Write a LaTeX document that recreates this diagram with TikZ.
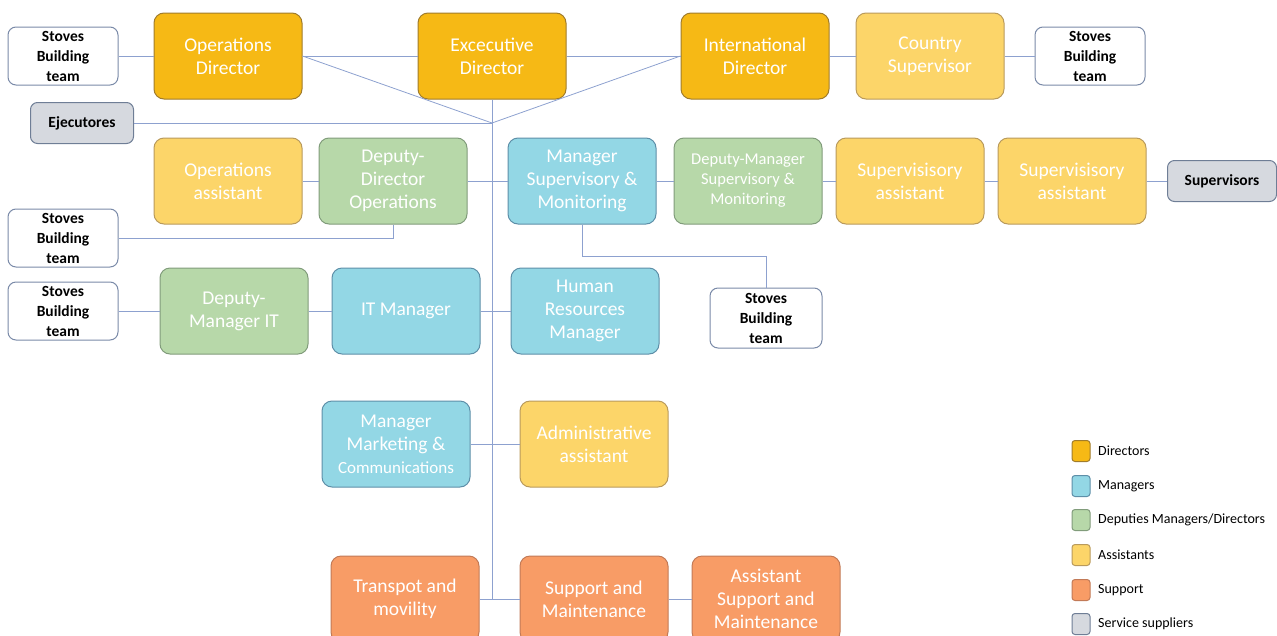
\documentclass[tikz,border=0pt]{standalone}
\usepackage{fontspec}
\setmainfont{Carlito}
\definecolor{dirF}{HTML}{F6B915}\definecolor{dirD}{HTML}{A07C2C}
\definecolor{manF}{HTML}{93D7E5}\definecolor{manD}{HTML}{5E8FA8}
\definecolor{depF}{HTML}{B7D8A9}\definecolor{depD}{HTML}{819C7B}
\definecolor{asF}{HTML}{FCD569}\definecolor{asD}{HTML}{B99A5C}
\definecolor{supF}{HTML}{F89C66}\definecolor{supD}{HTML}{C27A57}
\definecolor{svcF}{HTML}{D6D9DF}\definecolor{svcD}{HTML}{6F7E96}
\definecolor{teamD}{HTML}{7A8AA8}
\definecolor{wire}{HTML}{8DA1CF}
\tikzset{
  box/.style={draw, rounded corners=10pt, line width=1pt, align=center, inner sep=0pt,
    minimum width=148pt, minimum height=86pt, text=white, font=\fontsize{19.5}{23}\selectfont},
  dirbox/.style={box, fill=dirF, draw=dirD},
  manbox/.style={box, fill=manF, draw=manD},
  depbox/.style={box, fill=depF, draw=depD},
  asbox/.style={box, fill=asF, draw=asD},
  supbox/.style={box, fill=supF, draw=supD},
  team/.style={draw=teamD, rounded corners=8pt, line width=1pt, fill=white, align=center, inner sep=0pt,
    minimum width=110pt, minimum height=58pt, text=black, font=\bfseries\fontsize{15.5}{20}\selectfont},
  svc/.style={draw=svcD, rounded corners=7pt, line width=1pt, fill=svcF, align=center, inner sep=0pt,
    minimum height=41pt, text=black, font=\bfseries\fontsize{15.5}{18}\selectfont},
  wireln/.style={draw=wire, line width=0.8pt},
  legsq/.style={draw, rounded corners=3pt, line width=1pt, minimum width=18pt, minimum height=21pt, inner sep=0pt},
  legtx/.style={anchor=west, inner sep=0pt, font=\fontsize{14}{16}\selectfont, text=black}
}
\begin{document}
\begin{tikzpicture}[x=1pt,y=-1pt]
\useasboundingbox (0,0) rectangle (1277,635);
% row 1
\node[team] (st1) at (63,56) {Stoves\\Building\\team};
\node[dirbox] (opdir) at (228,56) {Operations\\Director};
\node[dirbox] (exdir) at (492,56) {Excecutive\\Director};
\node[dirbox] (intdir) at (755,56) {International\\Director};
\node[asbox] (ctry) at (930,56) {Country\\Supervisor};
\node[team] (st2) at (1090,56) {Stoves\\Building\\team};
\node[svc, minimum width=103pt] (ejec) at (82,123) {Ejecutores};
\coordinate (hub) at (492,123);
% row 2
\node[asbox] (opas) at (228,181) {Operations\\assistant};
\node[depbox] (ddo) at (393,181) {Deputy-\\Director\\Operations};
\node[manbox] (msm) at (582,181) {Manager\\Supervisory \&\\Monitoring};
\node[depbox, font=\fontsize{16.5}{20}\selectfont] (dmsm) at (748,181) {Deputy-Manager\\Supervisory \&\\Monitoring};
\node[asbox] (sa1) at (910,181) {Supervisisory\\assistant};
\node[asbox] (sa2) at (1072,181) {Supervisisory\\assistant};
\node[svc, minimum width=109pt] (supv) at (1222,181) {Supervisors};
\node[team] (st3) at (63,238) {Stoves\\Building\\team};
% row 3
\node[team] (st4) at (63,311) {Stoves\\Building\\team};
\node[depbox] (dmit) at (234,311) {Deputy-\\Manager IT};
\node[manbox] (itm) at (406,311) {IT Manager};
\node[manbox] (hrm) at (585,311) {Human\\Resources\\Manager};
\node[team, minimum width=112pt, minimum height=60pt] (st5) at (766,318) {Stoves\\Building\\team};
% row 4
\node[manbox] (mmc) at (396,444) {Manager\\Marketing \&\\{\fontsize{17}{20}\selectfont Communications}};
\node[asbox] (adm) at (594,444) {Administrative\\assistant};
% row 5
\node[supbox] (trans) at (405,599) {Transpot and\\movility};
\node[supbox] (supm) at (594,599) {Support and\\Maintenance};
\node[supbox] (asupm) at (766,599) {Assistant\\Support and\\Maintenance};
% connectors
\draw[wireln] (st1) -- (opdir);
\draw[wireln] (opdir) -- (exdir);
\draw[wireln] (exdir) -- (intdir);
\draw[wireln] (intdir) -- (ctry);
\draw[wireln] (ctry) -- (st2);
\draw[wireln] (opdir.east) -- (hub) -- (intdir.west);
\draw[wireln] (ejec.east) -- (hub);
\draw[wireln] (exdir.south) -- (exdir.south |- trans.east);
\draw[wireln] (opas) -- (ddo);
\draw[wireln] (ddo.east) -- (msm.west);
\draw[wireln] (msm) -- (dmsm);
\draw[wireln] (dmsm) -- (sa1);
\draw[wireln] (sa1) -- (sa2);
\draw[wireln] (sa2) -- (supv);
\draw[wireln] (ddo.south) |- (st3.east);
\draw[wireln] (msm.south) -- ++(0,32) -| (st5.north);
\draw[wireln] (st4) -- (dmit);
\draw[wireln] (dmit) -- (itm);
\draw[wireln] (itm.east) -- (hrm.west);
\draw[wireln] (mmc.east) -- (adm.west);
\draw[wireln] (trans.east) -- (supm.west);
\draw[wireln] (supm) -- (asupm);
% legend
\node[legsq, fill=dirF, draw=dirD] (l1) at (1081,451) {};
\node[legtx] (t1) at (1098,451) {Directors};
\node[legsq, fill=manF, draw=manD] (l2) at (1081,486) {};
\node[legtx] (t2) at (1098,486) {Managers};
\node[legsq, fill=depF, draw=depD] (l3) at (1081,520) {};
\node[legtx] (t3) at (1098,520) {Deputies Managers/Directors};
\node[legsq, fill=asF, draw=asD] (l4) at (1081,555) {};
\node[legtx] (t4) at (1098,555) {Assistants};
\node[legsq, fill=supF, draw=supD] (l5) at (1081,590) {};
\node[legtx] (t5) at (1098,590) {Support};
\node[legsq, fill=svcF, draw=svcD] (l6) at (1081,624) {};
\node[legtx] (t6) at (1098,624) {Service suppliers};
\end{tikzpicture}
\end{document}
